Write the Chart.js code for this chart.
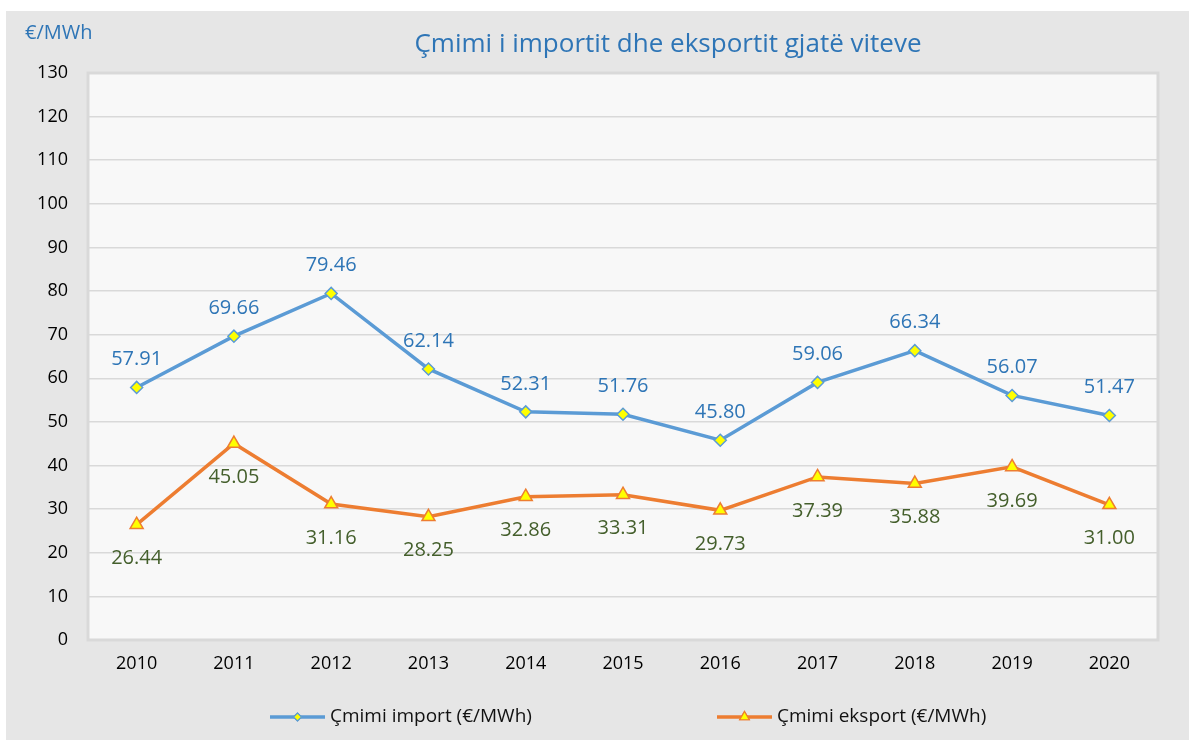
<!DOCTYPE html>
<html><head><meta charset="utf-8">
<script src="https://cdn.jsdelivr.net/npm/chart.js@4/dist/chart.umd.min.js"></script>
<style>html,body{margin:0;padding:0;background:#fff;overflow:hidden}</style>
</head><body>
<canvas id="c" width="1189" height="740" style="width:1189px;height:740px;display:block"></canvas>
<script>
const years = ["2010","2011","2012","2013","2014","2015","2016","2017","2018","2019","2020"];
const importPrices = [57.91, 69.66, 79.46, 62.14, 52.31, 51.76, 45.80, 59.06, 66.34, 56.07, 51.47];
const exportPrices = [26.44, 45.05, 31.16, 28.25, 32.86, 33.31, 29.73, 37.39, 35.88, 39.69, 31.00];
const yMin = 0, yMax = 130, yStep = 10;
const chartTitle = "Çmimi i importit dhe eksportit gjatë viteve";
const unitLabel = "€/MWh";
const seriesNames = ["Çmimi import (€/MWh)", "Çmimi eksport (€/MWh)"];

const FONT = "'Open Sans', 'DejaVu Sans', sans-serif";
const BLUE = '#5b9bd5', ORANGE = '#ed7d31', YELLOW = '#ffff00';
const LBL_BLUE = '#2e75b6', LBL_GREEN = '#445f2c';

const bgPlugin = {
  id: 'bg',
  beforeDraw(chart) {
    const ctx = chart.ctx, a = chart.chartArea;
    ctx.save();
    ctx.fillStyle = '#ffffff';
    ctx.fillRect(0, 0, chart.width, chart.height);
    ctx.fillStyle = '#e6e6e6';
    ctx.fillRect(6, 11, chart.width - 6, chart.height - 11);
    ctx.fillStyle = '#f8f8f8';
    ctx.fillRect(a.left, a.top, a.right - a.left, a.bottom - a.top);
    ctx.restore();
  },
  beforeDatasetsDraw(chart) {
    const ctx = chart.ctx, a = chart.chartArea;
    ctx.save();
    ctx.strokeStyle = '#d9d9d9';
    ctx.lineWidth = 3;
    ctx.strokeRect(a.left, a.top, a.right - a.left, a.bottom - a.top);
    ctx.restore();
  }
};

const labelPlugin = {
  id: 'labels',
  afterDatasetsDraw(chart) {
    const ctx = chart.ctx;
    ctx.save();
    ctx.font = "20px " + FONT;
    ctx.textAlign = 'center';
    ctx.textBaseline = 'middle';
    chart.getDatasetMeta(0).data.forEach((el, i) => {
      ctx.fillStyle = LBL_BLUE;
      ctx.fillText(importPrices[i].toFixed(2), el.x, el.y - 28);
    });
    chart.getDatasetMeta(1).data.forEach((el, i) => {
      ctx.fillStyle = LBL_GREEN;
      ctx.fillText(exportPrices[i].toFixed(2), el.x, el.y + 34);
    });
    ctx.restore();
  },
  afterDraw(chart) {
    const ctx = chart.ctx;
    ctx.save();
    ctx.fillStyle = LBL_BLUE;
    ctx.textBaseline = 'middle';
    ctx.textAlign = 'center';
    ctx.font = "26px " + FONT;
    ctx.fillText(chartTitle, 668, 45);
    ctx.textAlign = 'left';
    ctx.font = "20px " + FONT;
    ctx.fillText(unitLabel, 25, 33);

    // legend
    const ly = 717;
    const items = [
      {x: 270, color: BLUE, style: 'rectRot', r: 4, name: seriesNames[0]},
      {x: 717, color: ORANGE, style: 'triangle', r: 5.5, name: seriesNames[1]}
    ];
    items.forEach(it => {
      ctx.strokeStyle = it.color;
      ctx.lineWidth = 3.5;
      ctx.lineCap = 'butt';
      ctx.beginPath();
      ctx.moveTo(it.x, ly);
      ctx.lineTo(it.x + 55, ly);
      ctx.stroke();
      ctx.fillStyle = YELLOW;
      ctx.lineWidth = 1.2;
      Chart.helpers.drawPoint(ctx, {pointStyle: it.style, radius: it.r, borderWidth: 1.2}, it.x + 27.5, ly);
      ctx.fill(); ctx.stroke();
      ctx.fillStyle = '#111';
      ctx.font = "19px " + FONT;
      ctx.textAlign = 'left';
      ctx.fillText(it.name, it.x + 60, ly);
    });
    ctx.restore();
  }
};

new Chart(document.getElementById('c'), {
  type: 'line',
  data: {
    labels: years,
    datasets: [
      {label: seriesNames[0], data: importPrices, borderColor: BLUE, borderWidth: 3.5,
       pointStyle: 'rectRot', pointRadius: 6, pointBackgroundColor: YELLOW, pointBorderColor: BLUE,
       pointBorderWidth: 1.5, tension: 0},
      {label: seriesNames[1], data: exportPrices, borderColor: ORANGE, borderWidth: 3.5,
       pointStyle: 'triangle', pointRadius: 7.5, pointBackgroundColor: YELLOW, pointBorderColor: ORANGE,
       pointBorderWidth: 1.5, tension: 0}
    ]
  },
  options: {
    responsive: false,
    animation: false,
    devicePixelRatio: 1,
    layout: {padding: {top: 73, right: 31, left: 0, bottom: 0}},
    plugins: {legend: {display: false}, title: {display: false}, tooltip: {enabled: false}},
    scales: {
      x: {
        offset: true,
        grid: {display: false, drawTicks: false},
        border: {display: false},
        ticks: {color: '#000', font: {family: FONT, size: 18}, padding: 13, maxRotation: 0},
        afterFit(s) { s.height = 100; }
      },
      y: {
        min: yMin, max: yMax,
        grid: {color: '#d9d9d9', lineWidth: 1.5, drawTicks: false},
        border: {display: false},
        ticks: {stepSize: yStep, color: '#000', font: {family: FONT, size: 18}, padding: 20},
        afterFit(s) { s.width = 88; }
      }
    }
  },
  plugins: [bgPlugin, labelPlugin]
});
</script>
</body></html>
